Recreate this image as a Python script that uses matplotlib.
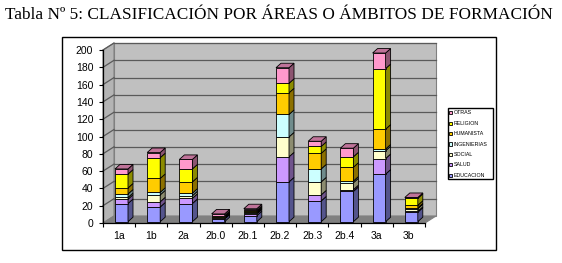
import numpy as np
import matplotlib.pyplot as plt
from matplotlib.patches import Rectangle, Polygon
from matplotlib.colors import to_rgb

# ----------------------------
# Data
# ----------------------------
categories = ["1a", "1b", "2a", "2b.0", "2b.1", "2b.2", "2b.3", "2b.4", "3a", "3b"]

educacion = [21, 17, 21, 3, 7, 46, 24, 35, 55, 11]
salud = [5, 6, 6, 1, 2, 29, 7, 2, 18, 1]
social = [2, 8, 3, 1, 1, 23, 15, 8, 9, 3]
ingenierias = [4, 3, 3, 0, 1, 26, 15, 2, 2, 1]
humanista = [7, 16, 13, 1, 1, 25, 18, 16, 23, 3]
religion = [16, 24, 15, 1, 1, 11, 8, 12, 70, 8]
otras = [6, 6, 11, 2, 2, 18, 6, 10, 18, 1]

series_names = ["EDUCACION", "SALUD", "SOCIAL", "INGENIERIAS", "HUMANISTA", "RELIGION", "OTRAS"]
series_vals = [educacion, salud, social, ingenierias, humanista, religion, otras]
series_cols = ["#9999FF", "#CC99FF", "#FFFFCC", "#CCFFFF", "#FFCC00", "#FFFF00", "#FF99CC"]

y_ticks = list(range(0, 201, 20))

# ----------------------------
# Geometry (pixels -> data units)
# ----------------------------
W, H = 562, 263
ax_left, ax_right, ax_bottom, ax_top = 103, 425, 223, 50
px_x = 10.0 / (ax_right - ax_left)      # data units per pixel (x)
px_y = 200.0 / (ax_bottom - ax_top)     # data units per pixel (y)

wall_dx, wall_dy = 11 * px_x, 7 * px_y      # back wall offset
bar_dx, bar_dy = 5 * px_x, 4.5 * px_y       # bar depth
bar_ox, bar_oy = 2.4 * px_x, 1.3 * px_y     # bar front offset
bar_w = 13 * px_x


def shade(c, f):
    r, g, b = to_rgb(c)
    return (r * f, g * f, b * f)


fig = plt.figure(figsize=(W / 100, H / 100), dpi=100)
ax = fig.add_axes([ax_left / W, 1 - ax_bottom / H,
                   (ax_right - ax_left) / W, (ax_bottom - ax_top) / H])
ax.set_xlim(-0.5, 9.5)
ax.set_ylim(0, 200)
ax.patch.set_visible(False)

# ----------------------------
# Walls and floor
# ----------------------------
x0, x1 = -0.5, 9.5
ax.add_patch(Rectangle((x0 + wall_dx, wall_dy), 10, 200, fc="#C0C0C0",
                       ec="#808080", lw=0.8, zorder=0, clip_on=False))
ax.add_patch(Polygon([(x0, 0), (x0, 200), (x0 + wall_dx, 200 + wall_dy),
                      (x0 + wall_dx, wall_dy)], closed=True, fc="#B4B4B4",
                     ec="#808080", lw=0.8, zorder=0, clip_on=False))
ax.add_patch(Polygon([(x0, 0), (x1, 0), (x1 + wall_dx, wall_dy),
                      (x0 + wall_dx, wall_dy)], closed=True, fc="#808080",
                     ec="#808080", lw=0.8, zorder=1, clip_on=False))
for y in y_ticks[1:]:
    ax.plot([x0 + wall_dx, x1 + wall_dx], [y + wall_dy, y + wall_dy],
            color="#5A5A5A", lw=0.9, zorder=1, clip_on=False)
    ax.plot([x0, x0 + wall_dx], [y, y + wall_dy],
            color="#5A5A5A", lw=0.9, zorder=1, clip_on=False)

# ----------------------------
# 3D-looking stacked bars
# ----------------------------
bottoms = np.zeros(len(categories))
tops = np.array(series_vals).sum(axis=0)
for vals, col in zip(series_vals, series_cols):
    for i, v in enumerate(vals):
        if v <= 0:
            continue
        xa = i + bar_ox - bar_w / 2
        xb = xa + bar_w
        ya = bottoms[i] + bar_oy
        yb = ya + v
        ax.add_patch(Rectangle((xa, ya), bar_w, v, fc=col, ec="black",
                               lw=0.6, zorder=3, clip_on=False))
        ax.add_patch(Polygon([(xb, ya), (xb + bar_dx, ya + bar_dy),
                              (xb + bar_dx, yb + bar_dy), (xb, yb)],
                             closed=True, fc=shade(col, 0.55), ec="black",
                             lw=0.6, zorder=3, clip_on=False))
        if bottoms[i] + v == tops[i]:
            ax.add_patch(Polygon([(xa, yb), (xa + bar_dx, yb + bar_dy),
                                  (xb + bar_dx, yb + bar_dy), (xb, yb)],
                                 closed=True, fc=shade(col, 0.75), ec="black",
                                 lw=0.6, zorder=3, clip_on=False))
    bottoms += np.array(vals)

# ----------------------------
# Axes, ticks
# ----------------------------
for s in ["top", "right"]:
    ax.spines[s].set_visible(False)
for s in ["left", "bottom"]:
    ax.spines[s].set_color("black")
    ax.spines[s].set_linewidth(0.9)
    ax.spines[s].set_zorder(4)

ax.set_yticks(y_ticks)
ax.set_yticklabels([str(t) for t in y_ticks])
ax.set_xticks(np.arange(-0.5, 10, 1.0))
ax.set_xticklabels([])
ax.set_xticks(np.arange(10), minor=True)
ax.set_xticklabels(categories, minor=True)
ax.tick_params(axis="y", direction="out", length=3, width=0.8, pad=4,
               labelsize=7.5)
ax.tick_params(axis="x", which="major", direction="out", length=3, width=0.8)
ax.tick_params(axis="x", which="minor", length=0, pad=6, labelsize=7.5)
for lab in ax.get_xticklabels(minor=True) + ax.get_yticklabels():
    lab.set_family("Liberation Sans")

# ----------------------------
# Legend (drawn as a small box)
# ----------------------------
lg = fig.add_axes([448 / W, 1 - 179 / H, 45 / W, 71 / H])
lg.set_xlim(0, 45)
lg.set_ylim(71, 0)
lg.axis("off")
lg.add_patch(Rectangle((0, 0), 45, 71, fill=False, ec="black", lw=1.0,
                       clip_on=False))
for k, (name, col) in enumerate(zip(series_names[::-1], series_cols[::-1])):
    yc = 4.8 + k * 10.4
    lg.add_patch(Rectangle((1.2, yc - 1.6), 3.2, 3.2, fc=col, ec="black",
                           lw=0.6))
    lg.text(5.5, yc, name, fontsize=3.8, va="center", ha="left",
            family="Liberation Sans")

# ----------------------------
# Frame and title
# ----------------------------
fig.add_artist(Rectangle((62 / W, 1 - 250 / H), (496 - 62) / W, (250 - 37) / H,
                         transform=fig.transFigure, fill=False, ec="black",
                         lw=1.0))
fig.text(5 / W, 1 - 15 / H,
         "Tabla Nº 5: CLASIFICACIÓN POR ÁREAS O ÁMBITOS DE FORMACIÓN",
         ha="left", va="center", fontsize=12.4, family="Liberation Serif")

fig.savefig("out.png", dpi=100)
